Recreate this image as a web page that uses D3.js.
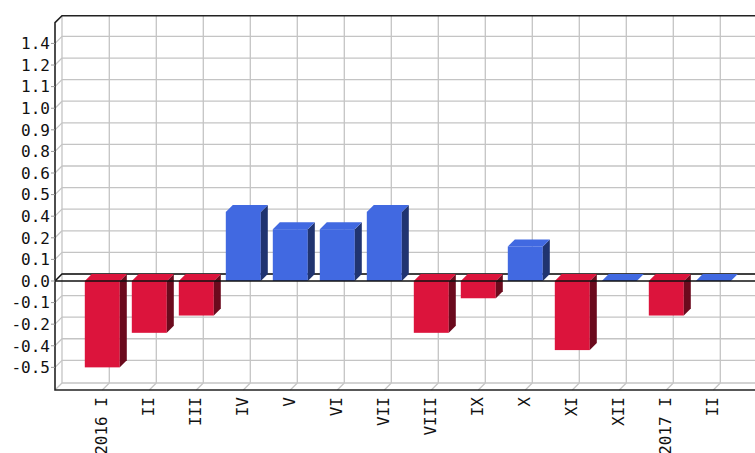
<!DOCTYPE html>
<html>
<head>
<meta charset="utf-8">
<script src="https://cdn.jsdelivr.net/npm/d3@7"></script>
<style>
  body { margin: 0; background: #fff; }
  svg { display: block; }
  .lbl { font-family: "DejaVu Sans Mono", monospace; font-size: 16px; fill: #111; }
</style>
</head>
<body>
<div id="chart"></div>
<script>
const categories = ["2016 I", "II", "III", "IV", "V", "VI", "VII", "VIII", "IX", "X", "XI", "XII", "2017 I", "II "];
const values = [-0.5, -0.3, -0.2, 0.4, 0.3, 0.3, 0.4, -0.3, -0.1, 0.2, -0.4, 0, -0.2, 0];
const tickValues = [-0.5, -0.375, -0.25, -0.125, 0, 0.125, 0.25, 0.375, 0.5, 0.625, 0.75, 0.875, 1, 1.125, 1.25, 1.375];
const tickLabels = ["-0.5", "-0.4", "-0.2", "-0.1", "0.0", "0.1", "0.2", "0.4", "0.5", "0.6", "0.8", "0.9", "1.0", "1.1", "1.2", "1.4"];

const width = 755, height = 453;
const plot = { left: 55, top: 22.7, bottom: 390, right: 760 };
const depth = { x: 7, y: 7 };

const svg = d3.select("#chart")
  .append("svg")
  .attr("width", width)
  .attr("height", height);

const xScale = d3.scalePoint()
  .domain(categories)
  .range([102.3, 713.3]);

const yScale = d3.scaleLinear()
  .domain([-0.631, 1.495])
  .range([plot.bottom, plot.top]);

const barW = 35;
const y0 = yScale(0);
const gridColor = "#c4c4c4";

// back wall grid
svg.append("g")
  .selectAll("line")
  .data(tickValues)
  .join("line")
  .attr("x1", plot.left + depth.x).attr("x2", width)
  .attr("y1", d => yScale(d) - depth.y).attr("y2", d => yScale(d) - depth.y)
  .attr("stroke", gridColor).attr("stroke-width", 1.3);

svg.append("g")
  .selectAll("line")
  .data(categories)
  .join("line")
  .attr("x1", d => xScale(d) + depth.x).attr("x2", d => xScale(d) + depth.x)
  .attr("y1", plot.top - depth.y).attr("y2", plot.bottom - depth.y)
  .attr("stroke", gridColor).attr("stroke-width", 1.3);

// left wall diagonals
svg.append("g")
  .selectAll("line")
  .data(tickValues)
  .join("line")
  .attr("x1", plot.left).attr("x2", plot.left + depth.x)
  .attr("y1", d => yScale(d)).attr("y2", d => yScale(d) - depth.y)
  .attr("stroke", gridColor).attr("stroke-width", 1.2);

// floor diagonals
svg.append("g")
  .selectAll("line")
  .data(categories)
  .join("line")
  .attr("x1", d => xScale(d)).attr("x2", d => xScale(d) + depth.x)
  .attr("y1", plot.bottom).attr("y2", plot.bottom - depth.y)
  .attr("stroke", gridColor).attr("stroke-width", 1.2);

svg.append("line")
  .attr("x1", plot.left + depth.x).attr("x2", plot.left + depth.x)
  .attr("y1", plot.top - depth.y).attr("y2", plot.bottom - depth.y)
  .attr("stroke", gridColor).attr("stroke-width", 1.3);
svg.append("line")
  .attr("x1", plot.left + depth.x).attr("x2", width)
  .attr("y1", plot.bottom - depth.y).attr("y2", plot.bottom - depth.y)
  .attr("stroke", gridColor).attr("stroke-width", 1.3);
svg.append("line")
  .attr("x1", plot.left).attr("x2", plot.left + depth.x)
  .attr("y1", plot.bottom).attr("y2", plot.bottom - depth.y)
  .attr("stroke", gridColor).attr("stroke-width", 1.2);

// zero line on back wall
svg.append("path")
  .attr("d", `M${plot.left},${y0}L${plot.left + depth.x},${y0 - depth.y}L${width},${y0 - depth.y}`)
  .attr("fill", "none").attr("stroke", "#111").attr("stroke-width", 1.4);

// bars
const front = v => v < 0 ? "#dc143c" : "#4169e1";
const side = v => v < 0 ? "#6b0a1d" : "#203470";

const bars = svg.append("g")
  .selectAll("g")
  .data(categories.map((c, i) => ({ c, v: values[i] })))
  .join("g");

bars.append("rect")
  .attr("x", d => xScale(d.c) - barW / 2)
  .attr("y", d => Math.min(yScale(d.v), y0))
  .attr("width", barW)
  .attr("height", d => Math.abs(yScale(d.v) - y0))
  .attr("fill", d => front(d.v));

bars.append("path")
  .attr("d", d => {
    const x1 = xScale(d.c) + barW / 2;
    const yt = Math.min(yScale(d.v), y0), yb = Math.max(yScale(d.v), y0);
    return `M${x1},${yt}L${x1 + depth.x},${yt - depth.y}L${x1 + depth.x},${yb - depth.y}L${x1},${yb}Z`;
  })
  .attr("fill", d => side(d.v));

bars.append("path")
  .attr("d", d => {
    const xa = xScale(d.c) - barW / 2, xb = xScale(d.c) + barW / 2;
    const yt = Math.min(yScale(d.v), y0);
    return `M${xa},${yt}L${xb},${yt}L${xb + depth.x},${yt - depth.y}L${xa + depth.x},${yt - depth.y}Z`;
  })
  .attr("fill", d => front(d.v));

// zero line front
svg.append("line")
  .attr("x1", plot.left).attr("x2", width)
  .attr("y1", y0).attr("y2", y0)
  .attr("stroke", "#111").attr("stroke-width", 1.4);

// outline
svg.append("path")
  .attr("d", `M${width},${plot.top - depth.y}L${plot.left + depth.x},${plot.top - depth.y}L${plot.left},${plot.top}L${plot.left},${plot.bottom}L${width},${plot.bottom}`)
  .attr("fill", "none").attr("stroke", "#222").attr("stroke-width", 1.6);

// value axis ticks and labels
svg.append("g")
  .selectAll("line")
  .data(tickValues)
  .join("line")
  .attr("x1", plot.left - 4).attr("x2", plot.left)
  .attr("y1", d => yScale(d)).attr("y2", d => yScale(d))
  .attr("stroke", "#999");

svg.append("g")
  .selectAll("text")
  .data(tickValues)
  .join("text")
  .attr("class", "lbl")
  .attr("x", plot.left - 5)
  .attr("y", d => yScale(d))
  .attr("dy", "0.36em")
  .attr("text-anchor", "end")
  .text((d, i) => tickLabels[i]);

// category labels
svg.append("g")
  .selectAll("text")
  .data(categories)
  .join("text")
  .attr("class", "lbl")
  .attr("transform", d => `translate(${xScale(d) - 1},397) rotate(-90)`)
  .attr("dy", "0.36em")
  .attr("text-anchor", "end")
  .text(d => d.trim());
</script>
</body>
</html>
